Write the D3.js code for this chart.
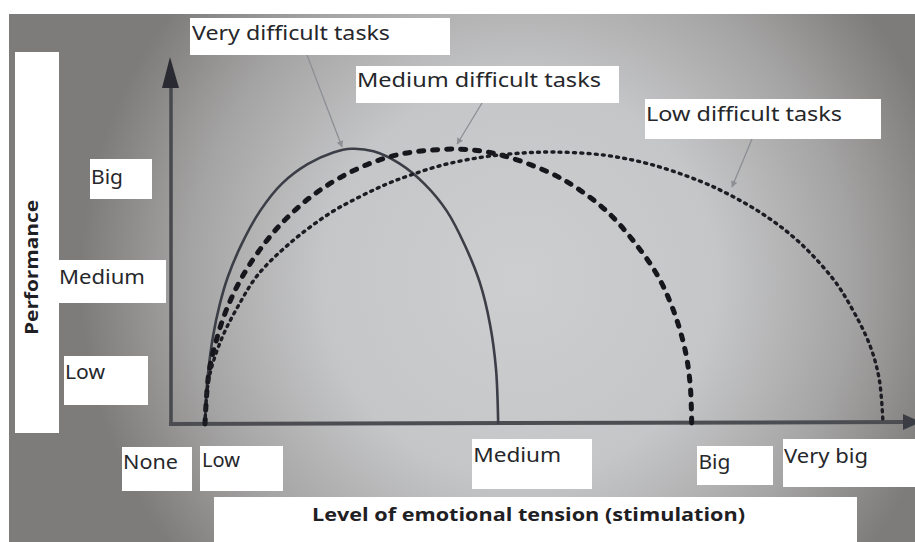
<!DOCTYPE html>
<html>
<head>
<meta charset="utf-8">
<script src="https://cdn.jsdelivr.net/npm/d3@7"></script>
<style>
	html, body { margin: 0; padding: 0; background: #fff; overflow: hidden; }
	svg { display: block; }
	.label { font-family: 'Noto Sans', 'Open Sans', sans-serif; font-size: 19px; fill: #26272b; }
	.title { font-family: 'Open Sans', 'Noto Sans', sans-serif; font-weight: 700; font-size: 18px; fill: #1f2023; }
</style>
</head>
<body>
<div class="chart"></div>
<script>
// categories on both axes (positions are in "stimulation" / "performance" units, 0-100)
const xTickLabels = ['None', 'Low', 'Medium', 'Big', 'Very big']
const xTickValues = [0, 4.5, 44.5, 71, 97]
const yTickLabels = ['Low', 'Medium', 'Big']
const yTickValues = [12.3, 38.1, 65.4]

const seriesNames = ['Very difficult tasks', 'Medium difficult tasks', 'Low difficult tasks']

// curves: [stimulation, performance]
const veryDifficult = [
	[4.5, 0], [4.7, 9], [5.1, 17], [5.6, 24], [6.5, 32.5], [7.6, 40], [9.5, 49], [12.0, 58],
	[15.0, 65.5], [18.5, 70.8], [22.0, 74], [24.5, 75], [27.5, 74.3], [31.0, 71], [34.5, 65.3],
	[37.5, 58], [40.0, 48.5], [42.0, 38.5], [43.4, 27], [44.2, 15], [44.5, 0]
]
const mediumDifficult = [
	[4.5, 0], [5.0, 13.5], [6.0, 22.5], [7.5, 31.5], [9.7, 40.5], [12.7, 49.4], [15.7, 56.2],
	[19.2, 62.3], [22.9, 67.1], [27.0, 71.0], [31.1, 73.5], [35.2, 74.6], [39.3, 74.9],
	[42.7, 74.2], [46.1, 72.6], [51.6, 68.4], [55.3, 64.2], [59.3, 58.0], [62.9, 50.0],
	[66.2, 40.6], [68.4, 31.0], [70.0, 20.2], [70.7, 10.6], [70.9, 0]
]
const lowDifficult = [
	[4.5, 0], [5.0, 12.0], [6.7, 22.9], [9.1, 32.4], [11.7, 40.6], [16.1, 49.3], [21.6, 57.5],
	[25.6, 61.9], [29.2, 65.3], [32.5, 67.8], [37.0, 70.6], [42.0, 72.6], [46.8, 73.7],
	[52.0, 74.1], [58.8, 73.3], [65.2, 70.8], [72.0, 66.2], [76.5, 62.0], [81.2, 56.4],
	[85.7, 49.3], [90.2, 39.5], [92.5, 32.4], [95.2, 21.5], [96.5, 12.0], [97.0, 0]
]
// where each annotation arrow touches its curve
const pointerTargets = [[23.2, 75.5], [38.9, 76.3], [76.4, 64.6]]

const W = 915
const H = 542

// layout of the pasted white label patches (photo of a printed figure)
const nameBoxes = [
	{ box: [190, 18, 260, 37], text: [192, 40], len: 198, from: [307, 55] },
	{ box: [356, 66, 263, 37], text: [357, 87], len: 244, from: [482, 103] },
	{ box: [645, 99, 236, 40], text: [646, 121], len: 196, from: [752, 139] }
]
const xLabelLayout = [
	{ dx: -49, y: 469, len: 55, box: [122, 447, 70, 44] },
	{ dx: -3, y: 467, len: 38, box: [200, 446, 83, 45] },
	{ dx: -25, y: 462, len: 88, box: [472, 439, 120, 50] },
	{ dx: 6, y: 469, len: 32, box: [697, 446, 76, 39] },
	{ dx: -99, y: 463, len: 84, box: [783, 439, 132, 48] }
]
const yLabelLayout = [
	{ x: 65, len: 40, box: [64, 356, 84, 49] },
	{ x: 59, len: 86, box: [57, 260, 109, 43] },
	{ x: 91, len: 32, box: [90, 159, 62, 40] }
]

const scale = {}
scale.x = d3.scaleLinear().domain([0, 100]).range([172, 905])
scale.y = d3.scaleLinear().domain([0, 100]).range([424, 57])

const svg = d3.select('.chart').append('svg')
	.attr('width', W)
	.attr('height', H)

const defs = svg.append('defs')

// photo background: lighter in the middle, darker at the edges
const grad = defs.append('radialGradient')
	.attr('id', 'photo')
	.attr('gradientUnits', 'userSpaceOnUse')
	.attr('cx', 520).attr('cy', 280).attr('r', 440)
const stops = [[0, '#cdced0'], [0.45, '#c5c6c8'], [0.75, '#a5a4a4'], [1, '#7e7c7a']]
stops.forEach(s => grad.append('stop').attr('offset', s[0]).attr('stop-color', s[1]))

defs.append('filter').attr('id', 'soft')
	.append('feGaussianBlur').attr('stdDeviation', 0.5)

defs.append('marker')
	.attr('id', 'tip')
	.attr('viewBox', '0 0 10 10')
	.attr('refX', 9).attr('refY', 5)
	.attr('markerWidth', 5).attr('markerHeight', 5)
	.attr('orient', 'auto')
	.append('path')
	.attr('d', 'M0,0 L10,5 L0,10 z')
	.attr('fill', '#8c8f94')

svg.append('rect')
	.attr('x', 9).attr('y', 14)
	.attr('width', W - 9).attr('height', H - 14)
	.attr('fill', 'url(#photo)')

const plot = svg.append('g').attr('filter', 'url(#soft)')

// axes with arrow heads
const x0 = scale.x.range()[0]
const x1 = scale.x.range()[1]
const y0 = scale.y.range()[0]
const y1 = scale.y.range()[1]

plot.append('line')
	.attr('x1', x0 - 1).attr('x2', x0 - 1)
	.attr('y1', y0 + 2).attr('y2', y1 + 20)
	.attr('stroke', '#46484d')
	.attr('stroke-width', 3.5)
plot.append('path')
	.attr('d', `M${x0 - 2},${y1} L${x0 - 10},${y1 + 31} L${x0 + 7},${y1 + 31} Z`)
	.attr('fill', '#2b2c30')

plot.append('line')
	.attr('x1', x0 - 3).attr('x2', x1)
	.attr('y1', y0).attr('y2', y0 - 2)
	.attr('stroke', '#4c4e52')
	.attr('stroke-width', 4)
plot.append('path')
	.attr('d', `M${x1 - 2},${y0 - 10} L${x1 + 16},${y0 - 2} L${x1 - 2},${y0 + 6} Z`)
	.attr('fill', '#3a3d44')

const line = d3.line()
	.x(d => scale.x(d[0]))
	.y(d => scale.y(d[1]))
	.curve(d3.curveCatmullRom.alpha(0.5))

const seriesStyle = [
	{ color: '#3b3e46', width: 2.6, dash: null, cap: 'butt' },
	{ color: '#15171c', width: 5, dash: '5 9', cap: 'round' },
	{ color: '#1c1e24', width: 3.4, dash: '2 5.2', cap: 'round' }
]
const series = [veryDifficult, mediumDifficult, lowDifficult]

plot.selectAll('.curve')
	.data(series)
	.enter()
	.append('path')
	.attr('class', 'curve')
	.attr('d', d => line(d))
	.attr('fill', 'none')
	.attr('stroke', (d, i) => seriesStyle[i].color)
	.attr('stroke-width', (d, i) => seriesStyle[i].width)
	.attr('stroke-dasharray', (d, i) => seriesStyle[i].dash)
	.attr('stroke-linecap', (d, i) => seriesStyle[i].cap)

// thin grey pointers from the names to the curves
svg.selectAll('.pointer')
	.data(pointerTargets)
	.enter()
	.append('line')
	.attr('class', 'pointer')
	.attr('x1', (d, i) => nameBoxes[i].from[0])
	.attr('y1', (d, i) => nameBoxes[i].from[1])
	.attr('x2', d => scale.x(d[0]))
	.attr('y2', d => scale.y(d[1]))
	.attr('stroke', '#8c8f94')
	.attr('stroke-width', 1.3)
	.attr('marker-end', 'url(#tip)')

// white patches
const patch = (b) => svg.append('rect')
	.attr('x', b[0]).attr('y', b[1])
	.attr('width', b[2]).attr('height', b[3])
	.attr('fill', '#ffffff')

patch([15, 52, 44, 381])
patch([214, 497, 643, 45])
nameBoxes.forEach(d => patch(d.box))
xLabelLayout.forEach(d => patch(d.box))
yLabelLayout.forEach(d => patch(d.box))

// series names
nameBoxes.forEach((d, i) => {
	svg.append('text')
		.attr('class', 'label')
		.attr('x', d.text[0])
		.attr('y', d.text[1])
		.attr('textLength', d.len)
		.attr('lengthAdjust', 'spacingAndGlyphs')
		.text(seriesNames[i])
})

// x tick labels
xTickLabels.forEach((t, i) => {
	const l = xLabelLayout[i]
	svg.append('text')
		.attr('class', 'label')
		.attr('x', scale.x(xTickValues[i]) + l.dx)
		.attr('y', l.y)
		.attr('textLength', l.len)
		.attr('lengthAdjust', 'spacingAndGlyphs')
		.text(t)
})

// y tick labels
yTickLabels.forEach((t, i) => {
	const l = yLabelLayout[i]
	svg.append('text')
		.attr('class', 'label')
		.attr('x', l.x)
		.attr('y', scale.y(yTickValues[i]))
		.attr('textLength', l.len)
		.attr('lengthAdjust', 'spacingAndGlyphs')
		.text(t)
})

// axis titles
svg.append('text')
	.attr('class', 'title')
	.attr('x', 312)
	.attr('y', 521)
	.attr('textLength', 433)
	.attr('lengthAdjust', 'spacingAndGlyphs')
	.text('Level of emotional tension (stimulation)')

svg.append('text')
	.attr('class', 'title')
	.attr('transform', 'translate(38,335) rotate(-90)')
	.attr('textLength', 135)
	.attr('lengthAdjust', 'spacingAndGlyphs')
	.text('Performance')
</script>
</body>
</html>
